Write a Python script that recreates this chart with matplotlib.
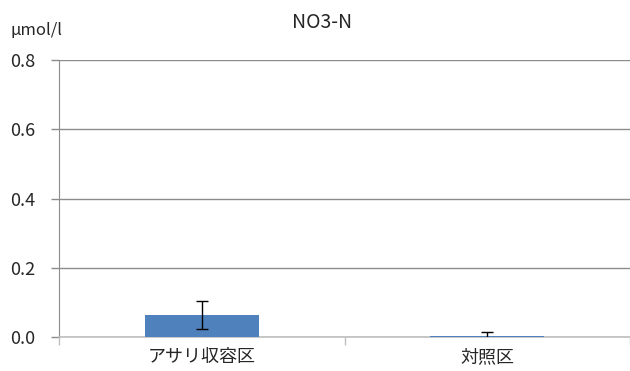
import matplotlib
matplotlib.use("Agg")
import matplotlib.pyplot as plt
from matplotlib.ticker import FixedLocator, NullFormatter, FixedFormatter

plt.rcParams['font.family'] = ['Noto Sans CJK JP', 'DejaVu Sans']

categories = ['アサリ収容区', '対照区']
values = [0.064, 0.004]
errors = [0.040, 0.009]
yticks = [0.0, 0.2, 0.4, 0.6, 0.8]
ytick_labels = ['0.0', '0.2', '0.4', '0.6', '0.8']

fig = plt.figure(figsize=(6.30, 3.71), dpi=100)
ax = fig.add_axes([59 / 630, 1 - 337 / 371, 571 / 630, 277 / 371])

x = list(range(len(categories)))
ax.bar(x, values, width=0.4, color='#4f81bd', zorder=3)
ax.errorbar(x, values, yerr=errors, fmt='none', ecolor='black',
            elinewidth=1.0, capsize=4, capthick=1.0, zorder=4)

ax.set_xlim(-0.5, len(categories) - 0.5)
ax.set_ylim(0, 0.8)

ax.set_yticks(yticks)
ax.set_yticklabels(ytick_labels)
ax.yaxis.grid(True, color='#8c8c8c', linewidth=1.0, zorder=0)
ax.set_axisbelow(True)

# category boundaries as major ticks, labels centred on minor ticks
ax.xaxis.set_major_locator(FixedLocator([-0.5, 0.5, 1.5]))
ax.xaxis.set_major_formatter(NullFormatter())
ax.xaxis.set_minor_locator(FixedLocator(x))
ax.xaxis.set_minor_formatter(FixedFormatter(categories))
ax.tick_params(axis='x', which='major', length=6, width=1, color='#bfbfbf', direction='out')
ax.tick_params(axis='x', which='minor', length=0, labelsize=13, pad=8, labelcolor='#262626')
ax.tick_params(axis='y', length=6, width=1, color='#8c8c8c', labelsize=13, pad=11,
               labelcolor='#262626')

for side in ('top', 'right'):
    ax.spines[side].set_visible(False)
ax.spines['left'].set_color('#8c8c8c')
ax.spines['bottom'].set_color('#bfbfbf')
ax.spines['bottom'].set_linewidth(1.2)

fig.text(322 / 630, 1 - 22 / 371, 'NO3-N', ha='center', va='center',
         fontsize=14, color='#262626')
fig.text(10 / 630, 1 - 30 / 371, 'μmol/l', ha='left', va='center',
         fontsize=12, color='#262626')

fig.savefig('out.png', dpi=100)
